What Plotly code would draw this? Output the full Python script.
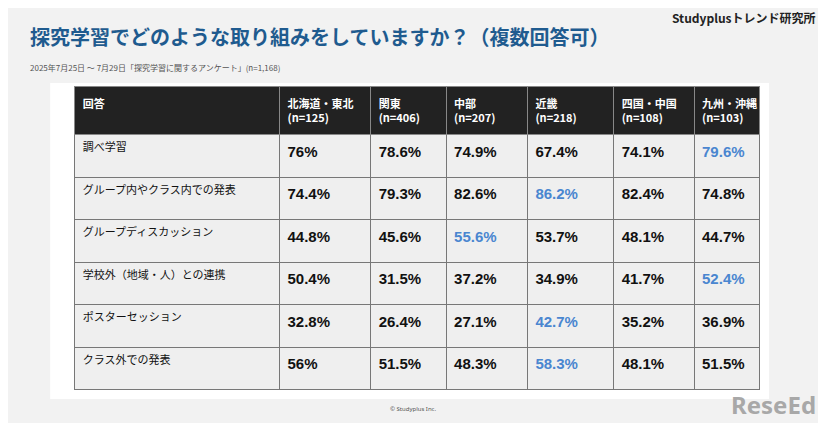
import plotly.graph_objects as go

W, H = 826, 431

answers = ["調べ学習", "グループ内やクラス内での発表", "グループディスカッション",
           "学校外（地域・人）との連携", "ポスターセッション", "クラス外での発表"]
regions = ["北海道・東北<br>(n=125)", "関東<br>(n=406)", "中部<br>(n=207)",
           "近畿<br>(n=218)", "四国・中国<br>(n=108)", "九州・沖縄<br>(n=103)"]
values = [
    ["76%", "78.6%", "74.9%", "67.4%", "74.1%", "79.6%"],
    ["74.4%", "79.3%", "82.6%", "86.2%", "82.4%", "74.8%"],
    ["44.8%", "45.6%", "55.6%", "53.7%", "48.1%", "44.7%"],
    ["50.4%", "31.5%", "37.2%", "34.9%", "41.7%", "52.4%"],
    ["32.8%", "26.4%", "27.1%", "42.7%", "35.2%", "36.9%"],
    ["56%", "51.5%", "48.3%", "58.3%", "48.1%", "51.5%"],
]

# highlight the max of each row in blue
colors = []
for row in values:
    nums = [float(v.rstrip("%")) for v in row]
    m = max(nums)
    colors.append(["#4a86d0" if n == m else "#111111" for n in nums])

cols = [answers] + [[r[j] for r in values] for j in range(6)]
font_cols = [["#111111"] * 6] + [[c[j] for c in colors] for j in range(6)]
sizes = [11] + [15] * 6

x0, x1, y0, y1 = 68, 767, 82, 405
fig = go.Figure(go.Table(
    domain=dict(x=[x0 / W, x1 / W], y=[1 - y1 / H, 1 - y0 / H]),
    columnwidth=[209, 93, 77, 83, 88, 82, 67],
    header=dict(values=["<b>回答</b>"] + [f"<b>{r}</b>" for r in regions],
                fill_color="#222222", line=dict(color="#888888", width=1),
                font=dict(color="white", size=11, family="Noto Sans CJK JP"),
                align="left", height=48),
    cells=dict(values=[cols[0]] + [[f"<b>{v}</b>" for v in c] for c in cols[1:]],
               fill_color="#efefef", line=dict(color="#777777", width=1),
               font=dict(color=font_cols, size=sizes, family="Arial, Noto Sans CJK JP"),
               align="left", height=42.5),
))

fig.update_layout(
    width=W - 16, height=H - 16, margin=dict(l=0, r=0, t=0, b=0),
    paper_bgcolor="#f2f2f2",
    shapes=[dict(type="rect", xref="paper", yref="paper",
                 x0=43 / W, x1=776 / W, y0=1 - 406 / H, y1=1 - 78 / H,
                 fillcolor="white", line=dict(width=0), layer="below")],
    annotations=[
        dict(text="<b>探究学習でどのような取り組みをしていますか？（複数回答可）</b>",
             x=20 / W, y=1 - 30 / H, xref="paper", yref="paper", xanchor="left",
             yanchor="middle", showarrow=False,
             font=dict(size=20, color="#1f5b8f", family="Noto Sans CJK JP")),
        dict(text="<b>Studyplusトレンド研究所</b>", x=1, y=1 - 10 / H, xref="paper",
             yref="paper", xanchor="right", yanchor="middle", showarrow=False,
             font=dict(size=12, color="#222222", family="Noto Sans CJK JP")),
        dict(text="2025年7月25日 ～ 7月29日「探究学習に関するアンケート」(n=1,168)",
             x=20 / W, y=1 - 62 / H, xref="paper", yref="paper", xanchor="left",
             yanchor="middle", showarrow=False,
             font=dict(size=8, color="#555555", family="Noto Sans CJK JP")),
        dict(text="© Studyplus Inc.", x=0.5, y=1 - 416 / H, xref="paper",
             yref="paper", xanchor="center", yanchor="middle", showarrow=False,
             font=dict(size=6, color="#555555", family="Noto Sans")),
        dict(text="<b>ReseEd</b>", x=1, y=0, xref="paper",
             yref="paper", xanchor="right", yanchor="bottom", showarrow=False,
             font=dict(size=24, color="#a8a8a8", family="Noto Sans")),
    ],
)

fig.write_html("out.html")
